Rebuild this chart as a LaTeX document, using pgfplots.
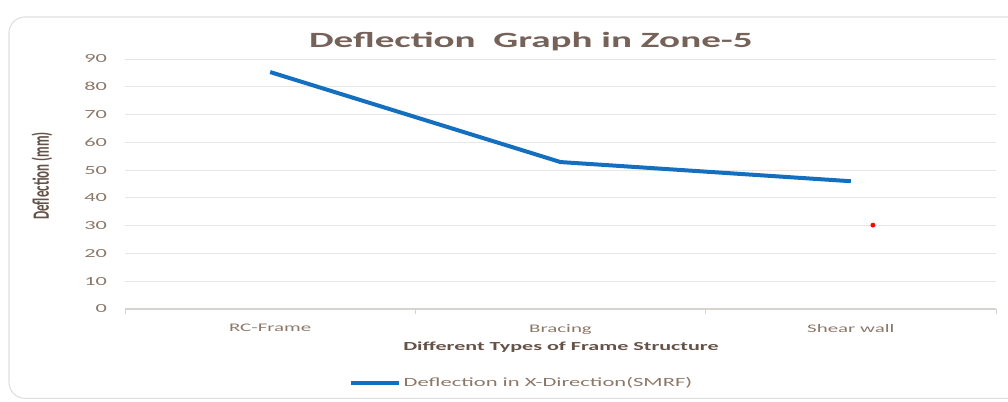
\documentclass[border=0pt]{standalone}
\usepackage{pgfplots}
\pgfplotsset{compat=1.18}
\usepackage{fontspec}
\setmainfont[FakeStretch=1.8]{Carlito}
\newfontfamily\plainfont{Carlito}
\definecolor{titlec}{RGB}{117,98,88}
\definecolor{tickc}{RGB}{140,120,105}
\definecolor{labc}{RGB}{100,82,72}
\definecolor{gridc}{RGB}{232,229,226}
\definecolor{axisc}{RGB}{215,212,208}
\definecolor{linec}{RGB}{20,112,190}
\definecolor{framec}{RGB}{222,222,222}
\begin{document}
\begin{tikzpicture}
\path[use as bounding box] (0,0) rectangle (756pt,300.75pt);
\draw[framec, line width=0.8pt, rounded corners=12pt] (6.75pt,2pt) rectangle (770pt,288pt);
\begin{axis}[
  at={(93.75pt,69pt)}, anchor=south west,
  scale only axis, width=653.25pt, height=187.5pt,
  xmin=-0.5, xmax=2.5, ymin=0, ymax=90,
  ytick={0,10,...,90},
  xtick={0,1,2},
  xticklabels={RC-Frame,Bracing,Shear wall},
  major tick length=0pt,
  extra x ticks={-0.5,0.5,1.5,2.5},
  extra x tick labels={},
  extra x tick style={major tick length=4pt, tick align=outside, tick style={axisc, line width=0.6pt}},
  axis x line*=bottom,
  axis y line*=left,
  y axis line style={draw=none},
  x axis line style={axisc, line width=0.8pt, -},
  ymajorgrids, grid style={gridc, line width=0.7pt},
  yticklabel style={font=\fontsize{9.3}{11}\selectfont, text=tickc, anchor=east, xshift=-10pt},
  xticklabel style={font=\fontsize{8.7}{10}\selectfont, text=tickc, yshift=-8pt},
  /pgf/number format/assume math mode=true,
  title={Deflection\ \ Graph in Zone-5},
  title style={font=\fontsize{16.3}{19}\selectfont\bfseries, text=titlec, at={(axis description cs:0.466,1.036)}, anchor=center},
  xlabel={Different Types of Frame Structure},
  xlabel style={font=\fontsize{9.2}{11}\selectfont\bfseries, text=labc, at={(axis description cs:0.5006,-0.152)}, anchor=center},
  ylabel={\scalebox{1.8}[1]{\rotatebox{90}{\plainfont\fontsize{9.75}{11}\selectfont\bfseries Deflection (mm)}}},
  ylabel style={rotate=-90, text=labc, at={(axis description cs:-0.0953,0.532)}, anchor=center},
  legend style={draw=none, fill=none, at={(axis description cs:0.4558,-0.296)}, anchor=center,
    font=\fontsize{9.4}{11}\selectfont, text=tickc, legend cell align=left},
  legend image code/.code={\draw[#1] (0pt,0pt) -- (36pt,0pt);},
  clip=false,
]
\addplot[linec, line width=3pt, line join=round] coordinates {(0,85.3) (1,52.9) (2,46.0)};
\addlegendentry{Deflection in X-Direction(SMRF)}
\addplot[only marks, mark=*, mark size=1.6pt, red, forget plot] coordinates {(2.076,30.2)};
\end{axis}
\end{tikzpicture}
\end{document}
